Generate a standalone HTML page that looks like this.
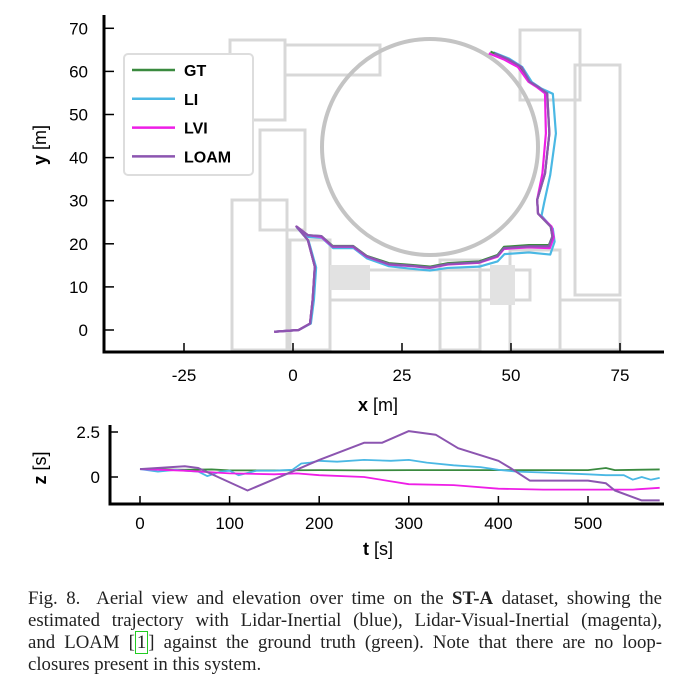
<!DOCTYPE html>
<html><head><meta charset="utf-8"><style>
body{margin:0;background:#fff;width:700px;height:687px;overflow:hidden;position:relative;font-family:"Liberation Sans",sans-serif}
svg{position:absolute;left:0;top:0}
.cap{position:absolute;left:28px;top:588px;width:634px;font-family:"Liberation Serif",serif;font-size:18.8px;line-height:22px;color:#222}
.cap div{text-align:justify;text-align-last:justify;white-space:nowrap}
.cap div.last{text-align-last:left}
.cap span.ref{border:1.5px solid #2c2;padding:0 1px}
</style></head><body>
<svg width="700" height="580" id="svg" font-family="Liberation Sans, sans-serif"></svg>
<div class="cap">
<div>Fig. 8.&nbsp; Aerial view and elevation over time on the <b>ST-A</b> dataset, showing the</div>
<div>estimated trajectory with Lidar-Inertial (blue), Lidar-Visual-Inertial (magenta),</div>
<div>and LOAM [<span class="ref">1</span>] against the ground truth (green). Note that there are no loop-</div>
<div class="last">closures present in this system.</div>
</div>
<script>
const xTicks=[-25,0,25,50,75];
const yTicks=[0,10,20,30,40,50,60,70];
const gtX=[-4.3,1.3,3.9,4.5,5,3.4,0.8,3.4,6.5,9.1,13.8,16.9,22,27.2,31.4,35.5,42.7,46.9,48.4,54.1,58.7,59.5,59.1,56.2,56,57.8,58.8,58.3,56.2,54.1,52,48.9,45.3];
const gtY=[-0.4,0,1.5,7,14.7,20.9,24,22,21.8,19.5,19.5,17.2,15.5,15.1,14.7,15.5,15.9,17.4,19.3,19.7,19.7,21.7,24,27,30.2,36.3,45.6,54.9,56.3,57.6,61.1,63,64.6];
const liX=[-4.3,1.3,4.1,4.8,5.3,3.6,0.9,3.5,6.6,9.2,13.9,17,22,27.2,31.4,35.5,42.7,46.9,48.5,54.1,59,60,59.6,57,57.6,59,60.3,59.6,57,54.8,52.6,49.5,46];
const liY=[-0.4,0,1.5,7,14.5,20.6,23.8,21.6,21.4,19,19,16.6,14.8,14.2,13.8,14.4,14.7,15.9,17.6,18,17.5,20.5,23.5,26.5,29.5,36,45.6,54.8,56,57.5,61,63,64.4];
const lviX=[-4.3,1.3,3.9,4.5,5,3.4,0.8,3.4,6.5,9.1,13.8,16.9,22,27.2,31.4,35.5,42.7,46.9,48.4,54.1,58.9,59.8,59.3,56.2,56,57.2,58,57.8,56,54,51.6,48.3,44.9];
const lviY=[-0.4,0,1.5,7,14.7,20.9,24,22,21.6,19.3,19.3,17,15.2,14.8,14.4,15.2,15.6,17,18.8,19.2,19,21.5,24,27,30.2,36.3,45.6,54.9,56.3,57.6,61,62.8,64.2];
const loX=[-4.3,1.3,3.9,4.5,5,3.4,0.8,3.4,6.5,9.1,13.8,16.9,22,27.2,31.4,35.5,42.7,46.9,48.4,54.1,58.7,59.5,59.1,56.2,56,57.8,58.8,58.3,56.4,54.3,52.4,49.4,46.2];
const loY=[-0.4,0,1.5,7,14.7,20.9,24,22,21.8,19.4,19.4,17.1,15.3,14.9,14.5,15.3,15.7,17.2,19,19.4,19.4,21.7,24,27,30.2,36.3,45.6,54.9,56.3,57.6,61,62.8,64.2];
const tTicks=[0,100,200,300,400,500];
const zTicks=[0,2.5];
const gtT=[0,20,50,80,100,150,200,250,300,350,400,450,500,520,530,580];
const gtZ=[0.44,0.42,0.4,0.42,0.37,0.37,0.38,0.37,0.38,0.38,0.38,0.38,0.38,0.5,0.38,0.42];
const liT=[0,20,40,50,65,75,90,100,110,130,150,170,180,190,200,220,250,280,300,320,350,380,400,420,450,500,520,540,550,560,570,580];
const liZ=[0.44,0.3,0.4,0.35,0.3,0.05,0.3,0.35,0.1,0.35,0.35,0.4,0.75,0.8,0.9,0.85,0.95,0.9,0.95,0.8,0.65,0.55,0.4,0.3,0.25,0.15,0.1,0.1,-0.15,0,-0.15,-0.05];
const lviT=[0,50,100,150,175,200,250,300,350,400,450,500,550,580];
const lviZ=[0.44,0.35,0.2,0.15,0.2,0.1,0,-0.4,-0.45,-0.65,-0.7,-0.7,-0.7,-0.6];
const loT=[0,50,65,120,170,200,250,270,300,330,355,400,415,435,500,520,530,560,580];
const loZ=[0.44,0.6,0.5,-0.75,0.3,0.95,1.9,1.9,2.55,2.35,1.6,0.9,0.45,-0.2,-0.2,-0.35,-0.75,-1.3,-1.3];
const NS='http://www.w3.org/2000/svg';
const svg=document.getElementById('svg');
function mk(tag,attrs,parent){const e=document.createElementNS(NS,tag);for(const k in attrs)e.setAttribute(k,attrs[k]);(parent||svg).appendChild(e);return e;}
const X=v=>293+v*4.36, Y=v=>330-v*4.31;
const T=v=>140+v*0.896, Z=v=>477-v*18;
const map=mk('g',{fill:'none',stroke:'#d8d8d8','stroke-width':3});


[[232,200,55,150],[230,40,55,80],[285,45,95,30],[520,30,60,70],[575,65,45,230],[510,250,50,100],[330,270,200,30],[440,260,40,90],[260,130,45,100],[290,240,40,110],[560,300,60,50]].forEach(r=>mk('rect',{x:r[0],y:r[1],width:r[2],height:r[3]},map));
mk('rect',{x:330,y:265,width:40,height:25,fill:'#e2e2e2',stroke:'none'},map);
mk('rect',{x:490,y:265,width:25,height:40,fill:'#e2e2e2',stroke:'none'},map);
const ring=mk('circle',{cx:430,cy:147,r:108,fill:'none',stroke:'#c4c4c4','stroke-width':4});


const ax=mk('path',{d:'M104 15V352H664',fill:'none',stroke:'#000','stroke-width':3});


xTicks.forEach(v=>{const l=mk('line',{x1:X(v),x2:X(v),y1:343,y2:352,stroke:'#000','stroke-width':1.5});


const t=mk('text',{x:X(v),y:381,'text-anchor':'middle','font-size':17});t.textContent=v;

});
yTicks.forEach(v=>{const l=mk('line',{x1:104,x2:114,y1:Y(v),y2:Y(v),stroke:'#000','stroke-width':1.5});


const t=mk('text',{x:88,y:Y(v)+6,'text-anchor':'end','font-size':17});t.textContent=v;

});
let t=mk('text',{x:378,y:411,'text-anchor':'middle','font-size':18});t.innerHTML='<tspan font-weight="bold">x</tspan> [m]';


t=mk('text',{x:0,y:0,'text-anchor':'middle','font-size':18,transform:'translate(46,145) rotate(-90)'});t.innerHTML='<tspan font-weight="bold">y</tspan> [m]';


const cols={GT:'#3a8a3f',LI:'#4ab8e4',LVI:'#ee1ee6',LOAM:'#8c55b0'};
function line(xs,ys,fx,fy,c,w,name){const p=mk('polyline',{points:xs.map((x,i)=>fx(x)+','+fy(ys[i])).join(' '),fill:'none',stroke:c,'stroke-width':w,'stroke-linejoin':'round'});

}
line(liX,liY,X,Y,cols.LI,2.2,'li-trajectory');
line(gtX,gtY,X,Y,cols.GT,2.2,'gt-trajectory');
line(lviX,lviY,X,Y,cols.LVI,2.2,'lvi-trajectory');
line(loX,loY,X,Y,cols.LOAM,2.2,'loam-trajectory');
const lg=mk('g',{});


mk('rect',{x:124,y:54,width:129,height:121,rx:4,fill:'#fff',stroke:'#ddd','stroke-width':2},lg);
['GT','LI','LVI','LOAM'].forEach((k,i)=>{const y=70+i*28.8;
const e=mk('g',{},lg);


mk('line',{x1:132,x2:175,y1:y,y2:y,stroke:cols[k],'stroke-width':2.5},e);
const tx=mk('text',{x:184,y:y+6,'font-size':16,'font-weight':'bold'},e);tx.textContent=k;});
const bx=mk('path',{d:'M110 425V504H664',fill:'none',stroke:'#000','stroke-width':3});


tTicks.forEach(v=>{const l=mk('line',{x1:T(v),x2:T(v),y1:496,y2:504,stroke:'#000','stroke-width':1.5});


const s=mk('text',{x:T(v),y:529,'text-anchor':'middle','font-size':17});s.textContent=v;

});
zTicks.forEach(v=>{const l=mk('line',{x1:110,x2:118,y1:Z(v),y2:Z(v),stroke:'#000','stroke-width':1.5});


const s=mk('text',{x:100,y:Z(v)+6,'text-anchor':'end','font-size':17});s.textContent=v;

});
t=mk('text',{x:378,y:555,'text-anchor':'middle','font-size':18});t.innerHTML='<tspan font-weight="bold">t</tspan> [s]';


t=mk('text',{x:0,y:0,'text-anchor':'middle','font-size':18,transform:'translate(46,468) rotate(-90)'});t.innerHTML='<tspan font-weight="bold">z</tspan> [s]';


line(gtT,gtZ,T,Z,cols.GT,1.8,'gt-elevation');
line(liT,liZ,T,Z,cols.LI,1.8,'li-elevation');
line(lviT,lviZ,T,Z,cols.LVI,1.8,'lvi-elevation');
line(loT,loZ,T,Z,cols.LOAM,2,'loam-elevation');
</script>
</body></html>
